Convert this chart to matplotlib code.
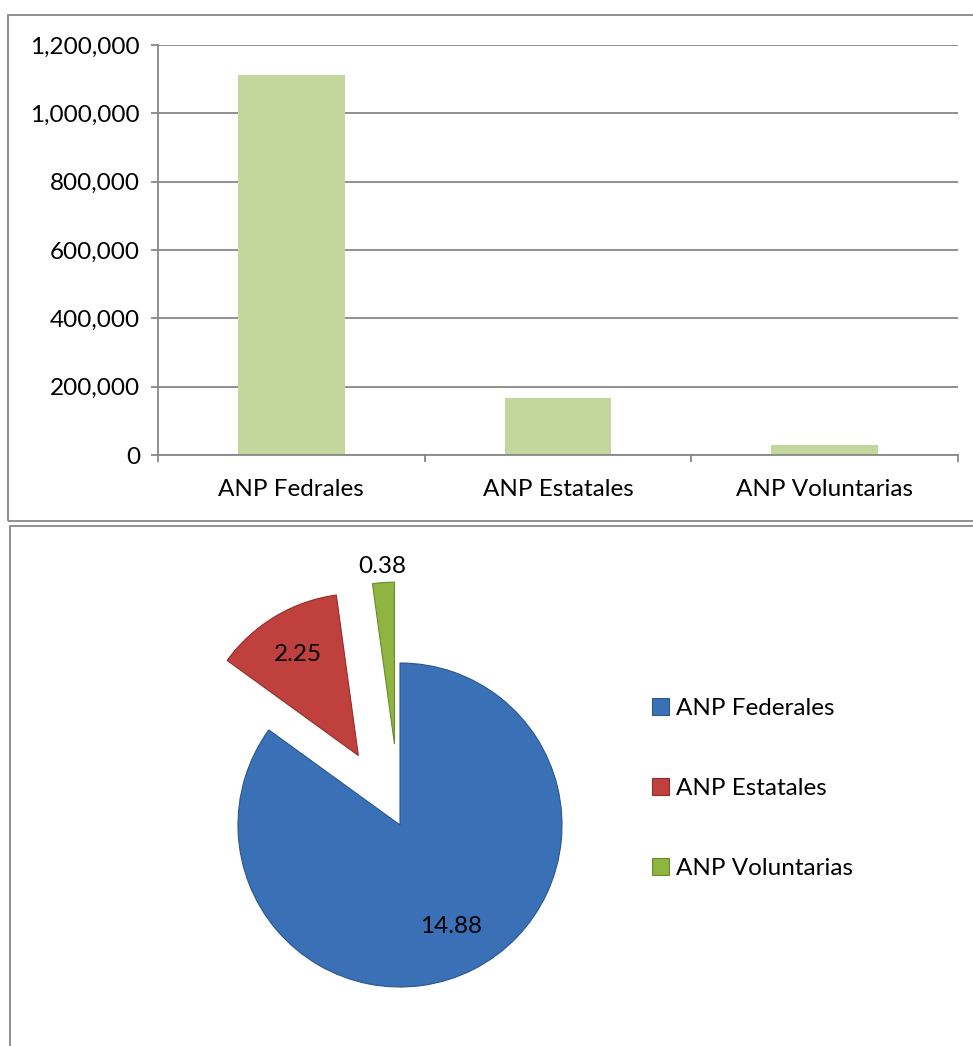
import matplotlib.pyplot as plt
from matplotlib.patches import Rectangle
from matplotlib.ticker import FuncFormatter
import numpy as np

plt.rcParams['font.family'] = ['Lato', 'DejaVu Sans']

# datos
categorias = ['ANP Fedrales', 'ANP Estatales', 'ANP Voluntarias']
superficie = [1113000, 168000, 28500]
leyenda = ['ANP Federales', 'ANP Estatales', 'ANP Voluntarias']
porcentaje = [14.88, 2.25, 0.38]
yticks = [0, 200000, 400000, 600000, 800000, 1000000, 1200000]

W, H = 973, 1046
fig = plt.figure(figsize=(W / 100, H / 100), dpi=100)
gris = '#878787'
fs = 17.5


def px(x0, y0, x1, y1):
    # caja en pixeles (origen arriba-izquierda) -> coordenadas de figura
    return [x0 / W, 1 - y1 / H, (x1 - x0) / W, (y1 - y0) / H]


# marcos de los dos graficos
fig.patches.append(Rectangle((8 / W, 1 - 521 / H), 1.0, 506 / H, transform=fig.transFigure,
                             fill=False, edgecolor=gris, linewidth=1.3))
fig.patches.append(Rectangle((10 / W, -0.1), 1.0, 1 - 526 / H + 0.1, transform=fig.transFigure,
                             fill=False, edgecolor=gris, linewidth=1.3))

# ---- grafico de barras ----
ax = fig.add_axes(px(158, 45, 958, 455))
x = np.arange(len(categorias))
ax.bar(x, superficie, width=0.4, color='#c3d69b', zorder=2)
ax.set_xlim(-0.5, len(categorias) - 0.5)
ax.set_ylim(0, 1200000)
ax.set_yticks(yticks)
ax.yaxis.set_major_formatter(FuncFormatter(lambda v, p: f'{v:,.0f}'))
ax.grid(axis='y', color=gris, linewidth=1.3, zorder=0)
for s in ['top', 'right']:
    ax.spines[s].set_visible(False)
for s in ['left', 'bottom']:
    ax.spines[s].set_color(gris)
    ax.spines[s].set_linewidth(1.3)
ax.set_xticks(x)
ax.set_xticklabels(categorias)
ax.set_xticks(np.arange(len(categorias) + 1) - 0.5, minor=True)
ax.tick_params(axis='x', which='major', length=0, pad=17, labelsize=fs)
ax.tick_params(axis='x', which='minor', length=5, width=1.3, color=gris)
ax.tick_params(axis='y', length=5, width=1.3, color=gris, pad=8, labelsize=fs)

# ---- grafico de pastel ----
r_px = 162
cx, cy = 400, 825
axp = fig.add_axes(px(150, 545, 650, 1045))
colores = ['#3a71b6', '#c0403d', '#8db53f']
bordes = ['#2b5689', '#8f2f2d', '#6a8a2e']
wedges, _ = axp.pie(porcentaje, colors=colores, startangle=90, counterclock=False,
                    explode=[0, 0.5, 0.5],
                    wedgeprops=dict(linewidth=0.8))
for w, b in zip(wedges, bordes):
    w.set_edgecolor(b)
axp.set_xlim((150 - cx) / r_px, (650 - cx) / r_px)
axp.set_ylim(-(1045 - cy) / r_px, (cy - 545) / r_px)
axp.set_aspect('auto')

# etiquetas de datos
dist = [0.7, 0.73, 1.1]
for w, v, d in zip(wedges, porcentaje, dist):
    ang = np.deg2rad((w.theta1 + w.theta2) / 2)
    x0, y0 = w.center
    axp.text(x0 + d * np.cos(ang), y0 + d * np.sin(ang), f'{v:.2f}',
             ha='center', va='center', fontsize=fs, color='black')

fig.legend(wedges, leyenda, loc='upper left', bbox_to_anchor=(640 / W, 1 - 686 / H),
           frameon=False, fontsize=fs, labelspacing=2.42, handlelength=0.7,
           handleheight=0.7, handletextpad=0.3, borderpad=0)

fig.savefig('out.png', dpi=100)
